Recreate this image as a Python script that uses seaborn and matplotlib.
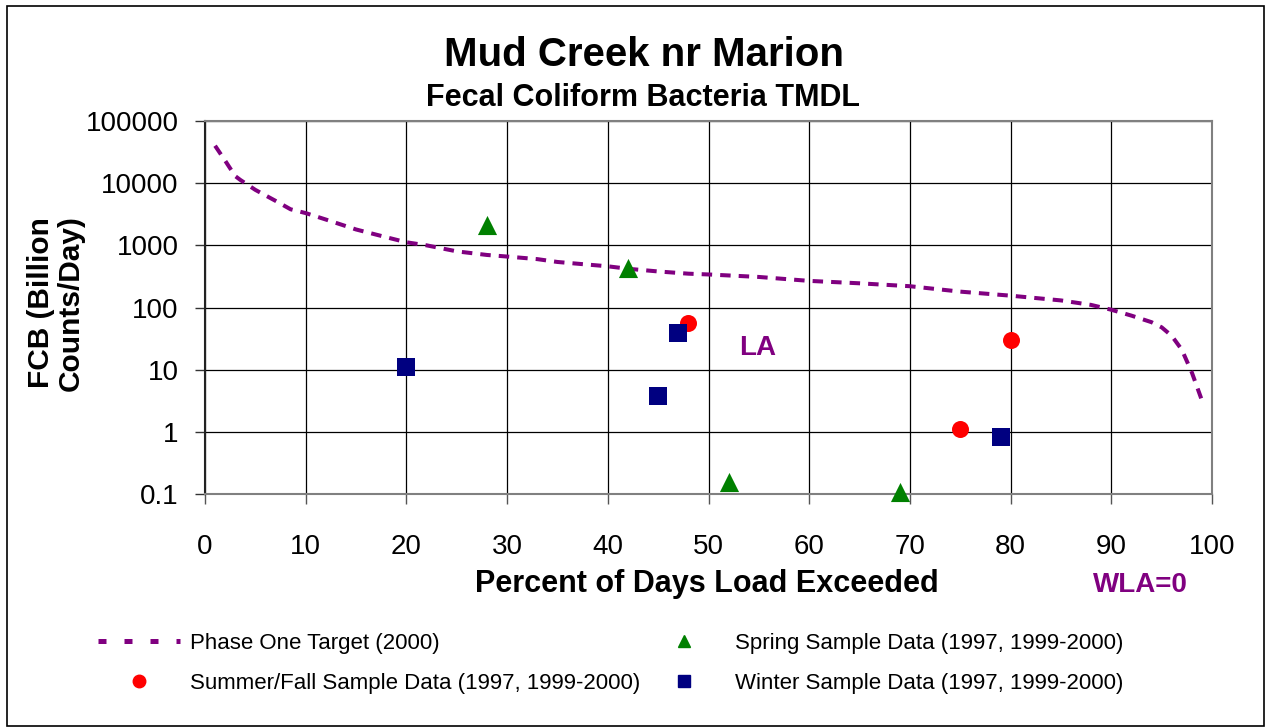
import matplotlib
matplotlib.use('Agg')
import matplotlib.pyplot as plt
import seaborn as sns
import pandas as pd
from matplotlib.lines import Line2D
from matplotlib.patches import Rectangle
from matplotlib.ticker import FixedLocator, FixedFormatter

# Load duration curve (Phase One Target)
target_pct = [1, 2, 3, 3.5, 5, 7, 8.5, 10, 12, 15, 18, 20, 22, 25, 28, 30, 33, 35, 38, 40,
              42, 45, 48, 50, 55, 60, 65, 70, 75, 80, 85, 88, 90, 92, 94, 95, 96, 97, 98, 99]
target_load = [40000, 23000, 13000, 11300, 7800, 5200, 3800, 3300, 2600, 1800, 1350, 1120,
               1000, 800, 700, 660, 600, 540, 490, 460, 420, 380, 350, 340, 310, 268, 245,
               220, 180, 155, 130, 110, 92, 74, 58, 48, 35, 21, 9, 3.2]

# Sample data
spring_pct = [28, 42, 52, 69]
spring_load = [2150, 430, 0.155, 0.108]
summer_pct = [48, 75, 80]
summer_load = [56, 1.1, 30]
winter_pct = [20, 45, 47, 79]
winter_load = [11.2, 3.8, 38.5, 0.83]

y_ticks = [0.1, 1, 10, 100, 1000, 10000, 100000]
y_labels = ['0.1', '1', '10', '100', '1000', '10000', '100000']
x_ticks = [0, 10, 20, 30, 40, 50, 60, 70, 80, 90, 100]

purple = '#800080'
green = '#008000'
red = '#ff0000'
navy = '#000080'

sns.set_style('white')
plt.rcParams['font.family'] = ['Liberation Sans', 'DejaVu Sans']
plt.rcParams['text.color'] = 'black'
plt.rcParams['xtick.labelcolor'] = 'black'
plt.rcParams['ytick.labelcolor'] = 'black'

fig = plt.figure(figsize=(12.69, 7.28), dpi=100)
ax = fig.add_axes([205 / 1269, 1 - 494 / 728, (1212 - 205) / 1269, (494 - 121) / 728])

curve = pd.DataFrame({'pct': target_pct, 'load': target_load})
sns.lineplot(data=curve, x='pct', y='load', ax=ax, color=purple, linewidth=2.9,
             linestyle=(0, (2.6, 2.0)), zorder=3)

sns.scatterplot(x=spring_pct, y=spring_load, ax=ax, marker='^', color=green, s=190,
                edgecolor=green, linewidth=0, zorder=4, clip_on=False)
sns.scatterplot(x=summer_pct, y=summer_load, ax=ax, marker='o', color=red, s=150,
                edgecolor=red, linewidth=0, zorder=4, clip_on=False)
sns.scatterplot(x=winter_pct, y=winter_load, ax=ax, marker='s', color=navy, s=170,
                edgecolor=navy, linewidth=0, zorder=4, clip_on=False)

ax.set_yscale('log')
ax.set_xlim(0, 100)
ax.set_ylim(0.1, 100000)
ax.yaxis.set_major_locator(FixedLocator(y_ticks))
ax.yaxis.set_major_formatter(FixedFormatter(y_labels))
ax.yaxis.set_minor_locator(FixedLocator([]))
ax.set_xticks(x_ticks)
ax.set_xticklabels([str(v) for v in x_ticks])
ax.grid(True, color='black', linewidth=0.9, zorder=0)
ax.set_axisbelow(True)
ax.tick_params(axis='x', direction='out', length=7, width=1, pad=22, labelsize=20,
               bottom=True, color='#555555')
ax.tick_params(axis='y', direction='out', length=7, width=1, pad=12, labelsize=20,
               left=True, color='#333333')
for side, sp in ax.spines.items():
    sp.set_color('#808080')
    sp.set_linewidth(1.5)
ax.spines['left'].set_color('#222222')
ax.set_xlabel('')
ax.set_ylabel('')

ax.text(54.9, 22, 'LA', color=purple, fontsize=20, fontweight='bold',
        ha='center', va='center')

fig.text(644 / 1269, 1 - 66 / 728, 'Mud Creek nr Marion', ha='center', va='baseline',
         fontsize=29, fontweight='bold')
fig.text(643 / 1269, 1 - 106 / 728, 'Fecal Coliform Bacteria TMDL', ha='center',
         va='baseline', fontsize=22, fontweight='bold')
fig.text(707 / 1269, 1 - 592 / 728, 'Percent of Days Load Exceeded', ha='center',
         va='baseline', fontsize=22, fontweight='bold')
fig.text(56 / 1269, 1 - 303 / 728, 'FCB (Billion\nCounts/Day)', ha='center',
         va='center', rotation=90, fontsize=21.5, fontweight='bold', multialignment='center',
         linespacing=1.05)
fig.text(1140 / 1269, 1 - 592 / 728, 'WLA=0', ha='center', va='baseline', color=purple,
         fontsize=20, fontweight='bold')

handles = [
    Line2D([], [], color=purple, linewidth=3.6, dashes=(1.6, 3.6)),
    Line2D([], [], linestyle='none', marker='o', color=red, markersize=9),
    Line2D([], [], linestyle='none', marker='^', color=green, markersize=9),
    Line2D([], [], linestyle='none', marker='s', color=navy, markersize=9),
]
labels = [
    'Phase One Target (2000)',
    'Summer/Fall Sample Data (1997, 1999-2000)',
    'Spring Sample Data (1997, 1999-2000)',
    'Winter Sample Data (1997, 1999-2000)',
]
fig.legend(handles, labels, ncol=2, loc='upper left',
           bbox_to_anchor=(98 / 1269, 1 - 633 / 728), frameon=False, fontsize=16,
           handlelength=3.7, handletextpad=0.45, columnspacing=0.1, labelspacing=0.85,
           borderaxespad=0, borderpad=0)

fig.patches.append(Rectangle((7 / 1269, 2 / 728), 1 - 12 / 1269, 1 - 8 / 728,
                             transform=fig.transFigure, fill=False, edgecolor='black',
                             linewidth=1.2))

fig.savefig('out.png', dpi=100)
